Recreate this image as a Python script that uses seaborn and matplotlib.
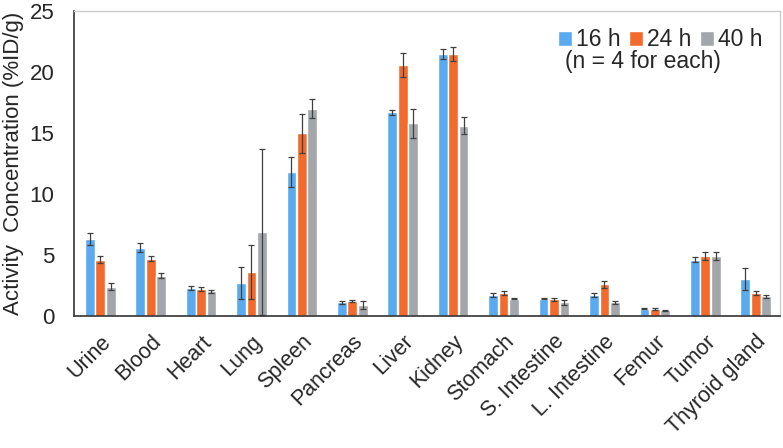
import matplotlib
matplotlib.use("Agg")
import matplotlib.pyplot as plt
import seaborn as sns
import pandas as pd
import numpy as np

organs = ["Urine", "Blood", "Heart", "Lung", "Spleen", "Pancreas", "Liver", "Kidney",
          "Stomach", "S. Intestine", "L. Intestine", "Femur", "Tumor", "Thyroid gland"]
times = ["16 h", "24 h", "40 h"]
v16 = [6.3, 5.6, 2.3, 2.7, 11.8, 1.1, 16.7, 21.5, 1.7, 1.4, 1.7, 0.6, 4.6, 3.0]
v24 = [4.6, 4.7, 2.2, 3.6, 15.0, 1.2, 20.6, 21.5, 1.9, 1.35, 2.6, 0.55, 4.9, 1.9]
v40 = [2.4, 3.3, 2.0, 6.9, 17.0, 0.9, 15.8, 15.6, 1.4, 1.1, 1.1, 0.45, 4.9, 1.6]
e16 = [0.5, 0.4, 0.15, 1.3, 1.2, 0.1, 0.2, 0.4, 0.15, 0.05, 0.15, 0.05, 0.2, 0.9]
e24 = [0.3, 0.2, 0.15, 2.2, 1.6, 0.1, 1.0, 0.6, 0.15, 0.15, 0.3, 0.1, 0.3, 0.15]
e40 = [0.3, 0.2, 0.1, 6.8, 0.8, 0.3, 1.2, 0.7, 0.05, 0.2, 0.15, 0.05, 0.3, 0.1]
colors = ["#5aaaf0", "#f26b2c", "#a3a7ab"]

sns.set_theme(style="white")
plt.rcParams["font.family"] = ["Liberation Sans", "DejaVu Sans"]

df = pd.DataFrame({
    "organ": organs * 3,
    "time": sum([[t] * len(organs) for t in times], []),
    "value": v16 + v24 + v40,
})
errs = [e16, e24, e40]

fig = plt.figure(figsize=(7.83, 4.48), dpi=100)
ax = fig.add_axes([0.0945, 0.295, 0.9015, 0.68])
sns.barplot(data=df, x="organ", y="value", hue="time", order=organs, hue_order=times,
            palette=colors, saturation=1, width=0.62, gap=0.06, errorbar=None,
            ax=ax, legend=True)

for cont, err in zip(ax.containers, errs):
    xs = [b.get_x() + b.get_width() / 2 for b in cont]
    ys = [b.get_height() for b in cont]
    ax.errorbar(xs, ys, yerr=err, fmt="none", ecolor="#404040", elinewidth=0.9,
                capsize=2, capthick=0.9)

ax.set_ylim(0, 25)
ax.set_yticks([0, 5, 10, 15, 20, 25])
ax.set_xlim(-0.52, len(organs) - 0.52)
ax.set_xlabel("")
ax.set_ylabel("Activity  Concentration (%ID/g)", fontsize=16, labelpad=4)
ax.tick_params(axis="y", labelsize=16, length=0, pad=14)
ax.tick_params(axis="x", labelsize=15.5, length=0, pad=11)
for lab in ax.get_xticklabels():
    lab.set_rotation(45)
    lab.set_ha("right")
    lab.set_rotation_mode("anchor")

for s in ["left", "bottom"]:
    ax.spines[s].set_color("#333333")
    ax.spines[s].set_linewidth(1.2)
for s in ["top", "right"]:
    ax.spines[s].set_color("#cccccc")
    ax.spines[s].set_linewidth(1.0)

leg = ax.legend(loc="upper right", ncol=3, frameon=False, fontsize=16.5,
                handlelength=0.6, handleheight=0.6, handletextpad=0.2,
                columnspacing=0.35, bbox_to_anchor=(1.0, 1.0), borderaxespad=0.35)
ax.text(0.695, 0.835, "(n = 4 for each)", transform=ax.transAxes, fontsize=16.5,
        ha="left", va="center")

fig.savefig("out.png", dpi=100)
